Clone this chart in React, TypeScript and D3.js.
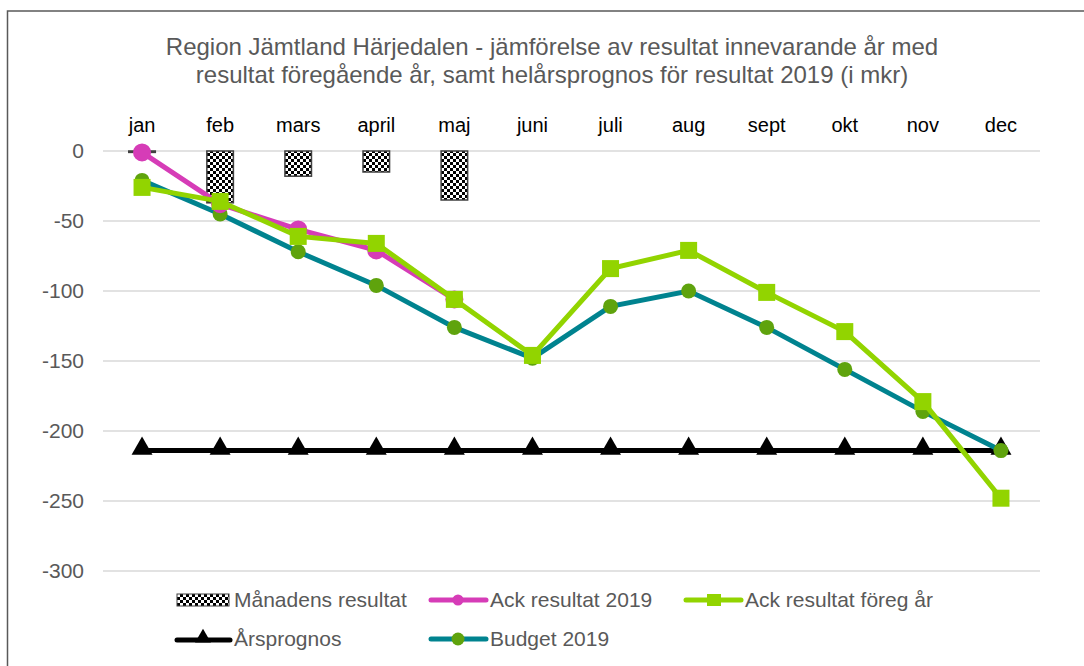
import React from 'react';
import * as d3 from 'd3';

const months = ['jan', 'feb', 'mars', 'april', 'maj', 'juni', 'juli', 'aug', 'sept', 'okt', 'nov', 'dec'];
const manadensResultat = [-1, -37, -18, -15, -35, null, null, null, null, null, null, null];
const ackResultat2019 = [-1, -38, -56, -71, -106, null, null, null, null, null, null, null];
const ackForegAr = [-26, -36, -61, -66, -106, -146, -84, -71, -101, -129, -179, -248];
const arsprognos = [-214, -214, -214, -214, -214, -214, -214, -214, -214, -214, -214, -214];
const budget2019 = [-21, -45, -72, -96, -126, -148, -111, -100, -126, -156, -186, -214];
const yTicks = [0, -50, -100, -150, -200, -250, -300];

const W = 1084;
const H = 666;
const margin = { top: 151, right: 44, bottom: 95, left: 103 };
const font = '"Liberation Sans", Arial, sans-serif';

const colMagenta = '#D63CB7';
const colLime = '#92D400';
const colTeal = '#00838F';
const colBudgetMarker = '#5FA30D';

const App = () => {
    const x = d3.scaleBand().domain(months).range([margin.left, W - margin.right]);
    const y = d3.scaleLinear().domain([0, -300]).range([margin.top, H - margin.bottom]);
    const cx = (m: string) => (x(m) as number) + x.bandwidth() / 2;

    const line = d3.line<[string, number | null]>()
        .defined(d => d[1] !== null)
        .x(d => cx(d[0]))
        .y(d => y(d[1] as number));
    const pairs = (arr: (number | null)[]) => months.map((m, i) => [m, arr[i]] as [string, number | null]);

    const tri = d3.symbol().type(d3.symbolTriangle).size(190)();
    const triSmall = d3.symbol().type(d3.symbolTriangle).size(110)();
    const barW = x.bandwidth() * 0.34;

    return (
        <div style={{ position: 'absolute', left: 0, top: 0 }}>
            <svg width={W} height={H} style={{ display: 'block' }}>
                <defs>
                    <pattern id="checker" width={6} height={6} patternUnits="userSpaceOnUse">
                        <rect width={6} height={6} fill="#fff" />
                        <rect width={3} height={3} fill="#000" />
                        <rect x={3} y={3} width={3} height={3} fill="#000" />
                    </pattern>
                </defs>
                <rect x={0} y={0} width={W} height={H} fill="#fff" />
                <rect x={7.5} y={11} width={W} height={H} fill="none" stroke="#595959" strokeWidth={1.5} />

                {/* title */}
                <text x={552} y={55} textAnchor="middle" fontFamily={font} fontSize={24} fill="#595959">
                    Region Jämtland Härjedalen - jämförelse av resultat innevarande år med
                </text>
                <text x={552} y={83} textAnchor="middle" fontFamily={font} fontSize={24} fill="#595959">
                    resultat föregående år, samt helårsprognos för resultat 2019 (i mkr)
                </text>

                {/* grid + y ticks */}
                {yTicks.map(t => (
                    <g key={t}>
                        <line x1={margin.left} x2={W - margin.right} y1={y(t)} y2={y(t)} stroke="#d9d9d9" strokeWidth={1.5} />
                        <text x={84} y={y(t)} dy="0.35em" textAnchor="end" fontFamily={font} fontSize={21} fill="#595959">{t}</text>
                    </g>
                ))}

                {/* month labels */}
                {months.map(m => (
                    <text key={m} x={cx(m)} y={132} textAnchor="middle" fontFamily={font} fontSize={20} fill="#000">{m}</text>
                ))}

                {/* bars */}
                {months.map((m, i) => manadensResultat[i] === null ? null : (
                    <rect key={m} x={cx(m) - barW / 2} y={y(0)} width={barW}
                        height={Math.max(y(manadensResultat[i] as number) - y(0), 1)}
                        fill="url(#checker)" stroke="#404040" strokeWidth={1.5} />
                ))}

                {/* Årsprognos */}
                <path d={line(pairs(arsprognos)) as string} fill="none" stroke="#000" strokeWidth={5} />
                {months.map(m => (
                    <path key={m} d={tri as string} transform={`translate(${cx(m)},${y(-214) - 2})`} fill="#000" />
                ))}

                {/* Budget 2019 */}
                <path d={line(pairs(budget2019)) as string} fill="none" stroke={colTeal} strokeWidth={5} />
                {months.map((m, i) => (
                    <circle key={m} cx={cx(m)} cy={y(budget2019[i])} r={7.5} fill={colBudgetMarker} />
                ))}

                {/* Ack resultat 2019 */}
                <path d={line(pairs(ackResultat2019)) as string} fill="none" stroke={colMagenta} strokeWidth={5} />
                {months.map((m, i) => ackResultat2019[i] === null ? null : (
                    <circle key={m} cx={cx(m)} cy={y(ackResultat2019[i] as number)} r={9} fill={colMagenta} />
                ))}

                {/* Ack resultat föreg år */}
                <path d={line(pairs(ackForegAr)) as string} fill="none" stroke={colLime} strokeWidth={5} />
                {months.map((m, i) => (
                    <rect key={m} x={cx(m) - 8.5} y={y(ackForegAr[i]) - 8.5} width={17} height={17} fill={colLime} />
                ))}

                {/* legend */}
                <g fontFamily={font} fontSize={21} fill="#595959">
                    <rect x={177} y={594} width={52} height={12} fill="url(#checker)" stroke="#404040" strokeWidth={1} />
                    <text x={234} y={600} dy="0.35em">Månadens resultat</text>

                    <line x1={431} x2={486} y1={600} y2={600} stroke={colMagenta} strokeWidth={5} strokeLinecap="round" />
                    <circle cx={458} cy={600} r={5.5} fill={colMagenta} />
                    <text x={490} y={600} dy="0.35em">Ack resultat 2019</text>

                    <line x1={686} x2={741} y1={600} y2={600} stroke={colLime} strokeWidth={5} strokeLinecap="round" />
                    <rect x={707} y={594} width={14} height={12} fill={colLime} />
                    <text x={745} y={600} dy="0.35em">Ack resultat föreg år</text>

                    <line x1={177} x2={230} y1={640} y2={640} stroke="#000" strokeWidth={5} strokeLinecap="round" />
                    <path d={triSmall as string} transform={`translate(203,638)`} fill="#000" />
                    <text x={234} y={639} dy="0.35em">Årsprognos</text>

                    <line x1={431} x2={486} y1={639} y2={639} stroke={colTeal} strokeWidth={5} strokeLinecap="round" />
                    <circle cx={458} cy={639} r={6.5} fill={colBudgetMarker} />
                    <text x={490} y={639} dy="0.35em">Budget 2019</text>
                </g>
            </svg>
        </div>
    );
};

export default App;
